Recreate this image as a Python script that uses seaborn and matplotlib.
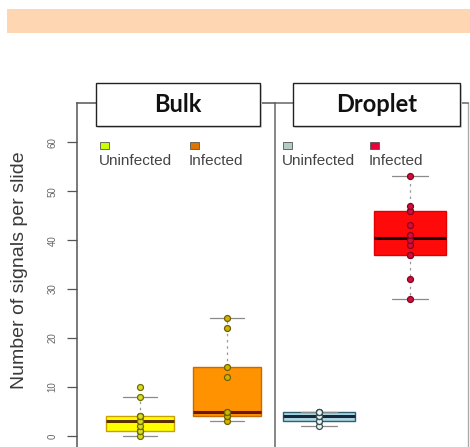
import numpy as np
import pandas as pd
import seaborn as sns
import matplotlib.pyplot as plt
from matplotlib.patches import Rectangle

W, H = 470, 447

panels = ["Bulk", "Droplet"]
conditions = ["Uninfected", "Infected"]

# signals per slide
bulk_uninfected = [0, 1, 1, 1, 2, 3, 3, 4, 4, 4, 8, 10]
bulk_infected = [3, 4, 4, 5, 5, 12, 14, 22, 24]
droplet_uninfected = [2, 3, 3, 4, 4, 4, 5, 5, 5]
droplet_infected = [28, 32, 37, 37, 39, 40, 41, 43, 46, 46, 47, 53]

y_ticks = [0, 10, 20, 30, 40, 50, 60]
y_label = "Number of signals per slide"

values = {
    "Bulk": [bulk_uninfected, bulk_infected],
    "Droplet": [droplet_uninfected, droplet_infected],
}

box_fill = {"Bulk": ["#FFFF00", "#FF9200"], "Droplet": ["#ADD8E6", "#FF0A0A"]}
box_edge = {"Bulk": ["#C8A000", "#C86A00"], "Droplet": ["#2F5F6F", "#E00000"]}
median_col = {"Bulk": ["#5A3000", "#6A1800"], "Droplet": ["#16283A", "#1A0000"]}
point_fill = {"Bulk": ["#DCDC20", "#D2B400"], "Droplet": ["#E8F4F4", "#D0103A"]}
point_edge = {"Bulk": ["#6E6E00", "#6E6000"], "Droplet": ["#3A5050", "#8A0020"]}
legend_col = {"Bulk": ["#CCFF00", "#E07400"], "Droplet": ["#B4CCC6", "#E8003A"]}


def fx(px):
    return px / W


def fy(py):
    return 1 - py / H


sns.set_style("white")
plt.rcParams["font.family"] = ["Liberation Sans", "DejaVu Sans"]

fig = plt.figure(figsize=(W / 100, H / 100), dpi=100)

# peach banner across the top
fig.add_artist(Rectangle((fx(7), fy(33)), fx(463), 24 / H,
                         transform=fig.transFigure, color="#FFD6B2", lw=0))

# panel geometry: (left px, right px, xlim, box width)
layout = {
    "Bulk": (77, 275, (-0.724, 1.552), 0.78),
    "Droplet": (275, 468, (-0.484, 1.637), 0.80),
}
top_px, bottom_px = 103, 447
ylim = (-2.24, 68)

for panel in panels:
    left, right, xlim, bw = layout[panel]
    ax = fig.add_axes([fx(left), fy(bottom_px), (right - left) / W,
                       (bottom_px - top_px) / H])
    for j, cond in enumerate(conditions):
        vals = values[panel][j]
        x = [cond] * len(vals)
        sns.boxplot(x=x, y=vals, order=conditions, ax=ax,
                    color=box_fill[panel][j], saturation=1, width=bw,
                    linecolor=box_edge[panel][j], linewidth=1,
                    showfliers=False, whis=1.5,
                    medianprops=dict(color=median_col[panel][j], linewidth=2.2),
                    whiskerprops=dict(color="#9a9a9a", linestyle=(0, (2, 3)),
                                      linewidth=0.9),
                    capprops=dict(color="#8a8a8a", linewidth=0.9))
        sns.stripplot(x=x, y=vals, order=conditions, ax=ax, jitter=False,
                      color=point_fill[panel][j], edgecolor=point_edge[panel][j],
                      linewidth=0.9, size=4.3, zorder=5)

    ax.set_xlim(*xlim)
    ax.set_ylim(*ylim)
    ax.set_xticks([])
    ax.set_xlabel("")
    ax.spines["bottom"].set_visible(False)

    if panel == "Bulk":
        ax.spines["right"].set_visible(False)
        for s in ["left", "top"]:
            ax.spines[s].set_color("#555555")
            ax.spines[s].set_linewidth(1.1)
        ax.set_yticks(y_ticks)
        ax.set_yticklabels([str(t) for t in y_ticks], rotation=90, va="center")
        ax.tick_params(axis="y", left=True, length=7, width=0.9,
                       color="#555555", labelsize=7, labelcolor="#666666",
                       pad=7)
        ax.set_ylabel(y_label, fontsize=14, color="#3a3a3a")
        ax.yaxis.set_label_coords(-0.247, 0.5145)
    else:
        ax.set_yticks([])
        ax.set_ylabel("")
        for s in ["left", "top"]:
            ax.spines[s].set_color("#666666")
            ax.spines[s].set_linewidth(1.1)
        ax.spines["right"].set_color("#aaaaaa")
        ax.spines["right"].set_linewidth(1.0)

# strip title boxes
strips = {"Bulk": (96, 260), "Droplet": (293, 460)}
for panel in panels:
    x0, x1 = strips[panel]
    fig.add_artist(Rectangle((fx(x0 + 2), fy(128)), (x1 - x0) / W, 43 / H,
                             transform=fig.transFigure, facecolor="#dddddd",
                             edgecolor="none", zorder=9))
    fig.add_artist(Rectangle((fx(x0), fy(126)), (x1 - x0) / W, 43 / H,
                             transform=fig.transFigure, facecolor="white",
                             edgecolor="#222222", lw=1.0, zorder=10))
    fig.text(fx((x0 + x1) / 2), fy(104.5), panel, ha="center", va="center",
             fontsize=17, fontweight="bold", family=["Lato", "DejaVu Sans"],
             color="#111111", zorder=11)

# legends: small square above each label
legend_x = {"Bulk": [100, 190], "Droplet": [283, 370]}
for panel in panels:
    for j, cond in enumerate(conditions):
        lx = legend_x[panel][j]
        fig.add_artist(Rectangle((fx(lx), fy(149)), 9 / W, 7 / H,
                                 transform=fig.transFigure,
                                 facecolor=legend_col[panel][j],
                                 edgecolor="#555555", lw=0.6, zorder=8))
        fig.text(fx(lx - 1), fy(165), cond, ha="left", va="baseline",
                 fontsize=11, color="#444444", zorder=8)

fig.savefig("out.png", dpi=100)
